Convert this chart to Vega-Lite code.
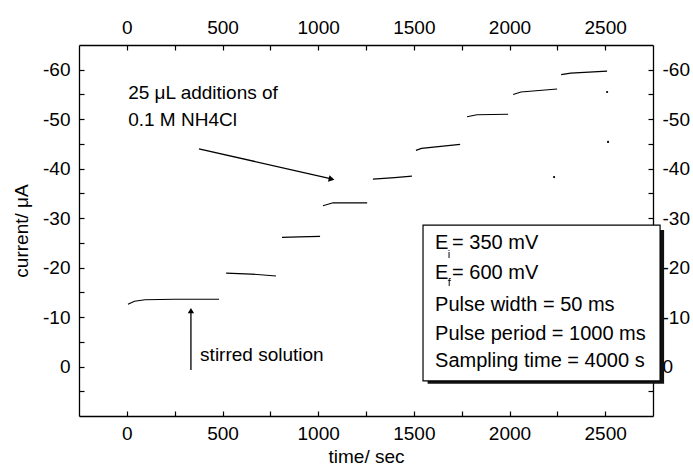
{
  "$schema": "https://vega.github.io/schema/vega-lite/v6.json",
  "width": 574,
  "height": 371,
  "autosize": {"type": "none"},
  "padding": {"left": 79, "top": 45, "right": 40, "bottom": 56},
  "background": "white",
  "config": {
    "view": {"stroke": null},
    "font": "Liberation Sans",
    "axis": {
      "domainColor": "black",
      "domainWidth": 1.3,
      "tickColor": "black",
      "tickWidth": 1.2,
      "tickSize": -5,
      "grid": false,
      "labelFont": "Liberation Sans",
      "labelFontSize": 19,
      "labelColor": "black",
      "titleFont": "Liberation Sans",
      "titleFontSize": 19,
      "titleFontWeight": "normal",
      "titleColor": "black"
    }
  },
  "layer": [
    {
      "data": {"values": [
        {"seg": 1, "t": 6, "i": -12.6}, {"seg": 1, "t": 40, "i": -13.2}, {"seg": 1, "t": 95, "i": -13.5}, {"seg": 1, "t": 250, "i": -13.6}, {"seg": 1, "t": 482, "i": -13.6},
        {"seg": 2, "t": 519, "i": -18.9}, {"seg": 2, "t": 650, "i": -18.7}, {"seg": 2, "t": 780, "i": -18.3},
        {"seg": 3, "t": 811, "i": -26.1}, {"seg": 3, "t": 900, "i": -26.2}, {"seg": 3, "t": 1010, "i": -26.3},
        {"seg": 4, "t": 1025, "i": -32.5}, {"seg": 4, "t": 1078, "i": -33.1}, {"seg": 4, "t": 1256, "i": -33.1},
        {"seg": 5, "t": 1286, "i": -37.9}, {"seg": 5, "t": 1400, "i": -38.2}, {"seg": 5, "t": 1490, "i": -38.5},
        {"seg": 6, "t": 1511, "i": -43.7}, {"seg": 6, "t": 1540, "i": -44.1}, {"seg": 6, "t": 1742, "i": -44.9},
        {"seg": 7, "t": 1778, "i": -50.5}, {"seg": 7, "t": 1830, "i": -50.9}, {"seg": 7, "t": 1993, "i": -51.0},
        {"seg": 8, "t": 2019, "i": -55.0}, {"seg": 8, "t": 2060, "i": -55.5}, {"seg": 8, "t": 2249, "i": -56.1},
        {"seg": 9, "t": 2270, "i": -59.0}, {"seg": 9, "t": 2320, "i": -59.3}, {"seg": 9, "t": 2510, "i": -59.7}
      ]},
      "mark": {"type": "line", "color": "black", "strokeWidth": 1.2},
      "encoding": {
        "x": {"field": "t", "type": "quantitative",
          "scale": {"domain": [-250, 2750], "nice": false, "zero": false},
          "axis": {"orient": "bottom", "title": "time/ sec",
            "values": [0, 250, 500, 750, 1000, 1250, 1500, 1750, 2000, 2250, 2500],
            "labelExpr": "datum.value % 500 === 0 ? '' + datum.value : ''",
            "labelPadding": 13, "titlePadding": 4}},
        "y": {"field": "i", "type": "quantitative",
          "scale": {"domain": [-65, 10], "nice": false, "zero": false, "reverse": true},
          "axis": {"orient": "left", "title": "current/ μA",
            "values": [-60, -55, -50, -45, -40, -35, -30, -25, -20, -15, -10, -5, 0, 5],
            "labelExpr": "datum.value % 10 === 0 ? '' + datum.value : ''",
            "labelPadding": 14, "titlePadding": 11}},
        "detail": {"field": "seg", "type": "nominal"}
      }
    },
    {
      "data": {"values": [
        {"t": 2233, "i": -38.3}, {"t": 2515, "i": -45.4}, {"t": 2510, "i": -55.5}
      ]},
      "mark": {"type": "point", "filled": true, "color": "black", "size": 5, "opacity": 1},
      "encoding": {
        "x": {"field": "t", "type": "quantitative",
          "axis": {"orient": "top", "title": null,
            "values": [0, 250, 500, 750, 1000, 1250, 1500, 1750, 2000, 2250, 2500],
            "labelExpr": "datum.value % 500 === 0 ? '' + datum.value : ''",
            "labelPadding": 13}},
        "y": {"field": "i", "type": "quantitative",
          "axis": {"orient": "right", "title": null,
            "values": [-60, -55, -50, -45, -40, -35, -30, -25, -20, -15, -10, -5, 0, 5],
            "labelExpr": "datum.value % 10 === 0 ? '' + datum.value : ''",
            "labelPadding": 14}}
      }
    },
    {
      "data": {"values": [
        {"x": 377, "y": -44.0, "x2": 1075, "y2": -37.9},
        {"x": 335, "y": 0.7, "x2": 335, "y2": -11.0}
      ]},
      "mark": {"type": "rule", "color": "black", "strokeWidth": 1.3},
      "encoding": {
        "x": {"field": "x", "type": "quantitative", "axis": null},
        "y": {"field": "y", "type": "quantitative", "axis": null},
        "x2": {"field": "x2"},
        "y2": {"field": "y2"}
      }
    },
    {
      "data": {"values": [{"x": 1070, "y": -37.9}]},
      "mark": {"type": "point", "shape": "triangle-right", "filled": true, "color": "black", "size": 45, "angle": 13, "opacity": 1},
      "encoding": {
        "x": {"field": "x", "type": "quantitative", "axis": null},
        "y": {"field": "y", "type": "quantitative", "axis": null}
      }
    },
    {
      "data": {"values": [{"x": 335, "y": -11.3}]},
      "mark": {"type": "point", "shape": "triangle-up", "filled": true, "color": "black", "size": 40, "opacity": 1},
      "encoding": {
        "x": {"field": "x", "type": "quantitative", "axis": null},
        "y": {"field": "y", "type": "quantitative", "axis": null}
      }
    },
    {
      "data": {"values": [
        {"x": 7, "y": -55.2, "label": "25 μL additions of"},
        {"x": 7, "y": -49.8, "label": "0.1 M NH4Cl"},
        {"x": 383, "y": -2.3, "label": "stirred solution"}
      ]},
      "mark": {"type": "text", "align": "left", "baseline": "middle", "fontSize": 19, "font": "Liberation Sans", "color": "black"},
      "encoding": {
        "x": {"field": "x", "type": "quantitative", "axis": null},
        "y": {"field": "y", "type": "quantitative", "axis": null},
        "text": {"field": "label"}
      }
    },
    {
      "data": {"values": [{"x1": 1572, "x2": 2808, "y1": -27.6, "y2": 3.5}]},
      "mark": {"type": "rect", "color": "#111"},
      "encoding": {
        "x": {"field": "x1", "type": "quantitative", "axis": null},
        "x2": {"field": "x2"},
        "y": {"field": "y1", "type": "quantitative", "axis": null},
        "y2": {"field": "y2"}
      }
    },
    {
      "data": {"values": [{"x1": 1548, "x2": 2787, "y1": -28.6, "y2": 2.9}]},
      "mark": {"type": "rect", "fill": "white", "stroke": "black", "strokeWidth": 1.2},
      "encoding": {
        "x": {"field": "x1", "type": "quantitative", "axis": null},
        "x2": {"field": "x2"},
        "y": {"field": "y1", "type": "quantitative", "axis": null},
        "y2": {"field": "y2"}
      }
    },
    {
      "data": {"values": [
        {"x": 1611, "y": -25.0, "label": "E"},
        {"x": 1700, "y": -25.0, "label": "= 350 mV"},
        {"x": 1611, "y": -18.9, "label": "E"},
        {"x": 1700, "y": -18.9, "label": "= 600 mV"},
        {"x": 1611, "y": -12.4, "label": "Pulse width = 50 ms"},
        {"x": 1611, "y": -6.6, "label": "Pulse period = 1000 ms"},
        {"x": 1611, "y": -1.1, "label": "Sampling time = 4000 s"}
      ]},
      "mark": {"type": "text", "align": "left", "baseline": "middle", "fontSize": 20, "font": "Liberation Sans", "color": "black"},
      "encoding": {
        "x": {"field": "x", "type": "quantitative", "axis": null},
        "y": {"field": "y", "type": "quantitative", "axis": null},
        "text": {"field": "label"}
      }
    },
    {
      "data": {"values": [
        {"x": 1677, "y": -22.6, "label": "i"},
        {"x": 1677, "y": -16.9, "label": "f"}
      ]},
      "mark": {"type": "text", "align": "left", "baseline": "middle", "fontSize": 11, "font": "Liberation Sans", "color": "black"},
      "encoding": {
        "x": {"field": "x", "type": "quantitative", "axis": null},
        "y": {"field": "y", "type": "quantitative", "axis": null},
        "text": {"field": "label"}
      }
    }
  ],
  "resolve": {"axis": {"x": "independent", "y": "independent"}}
}
